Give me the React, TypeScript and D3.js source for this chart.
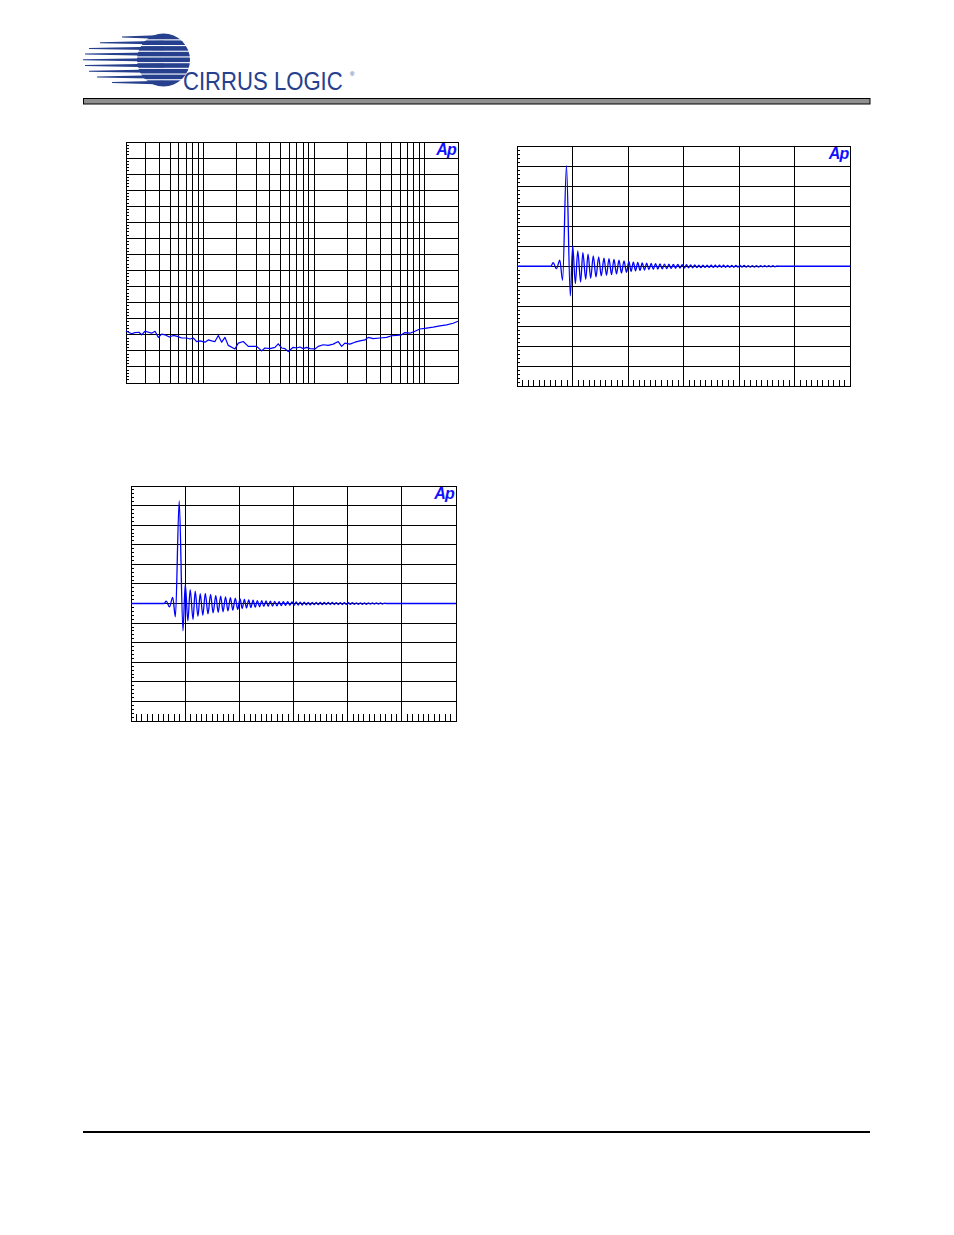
import React from "react";
import * as d3 from "d3";

// ---------- Chart 1 (log frequency) data ----------
const freqs = [20, 22.5, 24.1, 26.2, 27.7, 29.7, 34.1, 36.6, 39.2, 42.0, 45.0, 49.2, 53.5, 58.1, 63.7, 70.7, 75.7, 81.1, 87.0, 93.2, 103.5, 110.8, 118.9, 127.4, 136.5, 146.4, 156.8, 168.0, 193.0, 206.8, 229.4, 254.5, 303.3, 336.4, 360.4, 399.8, 443.6, 475.2, 509.8, 546.2, 584.9, 648.9, 697, 746.6, 799.6, 857.9, 918.9, 1019, 1092, 1211, 1344, 1491, 1655, 1776, 1902, 2111, 2343, 2600, 2885, 3091, 3428, 3940, 4530, 5025, 5577, 6188, 6628, 7356, 8162, 9055, 10403, 11940, 13730, 15780, 18110, 20000];
const levels = [-103.8, -104.7, -104.3, -104.2, -105.0, -103.9, -104.5, -103.9, -105.8, -104.8, -105.0, -105.7, -105.2, -105.5, -106.0, -106.0, -106.3, -106.0, -107.1, -106.9, -107.3, -106.6, -106.9, -107.1, -105.2, -107.3, -105.8, -108.3, -109.4, -107.6, -107.1, -108.6, -108.6, -110.0, -109.1, -109.3, -108.9, -107.8, -109.1, -109.3, -110.2, -108.9, -109.1, -108.8, -109.3, -108.9, -109.3, -109.4, -108.6, -108.1, -108.3, -107.9, -107.1, -108.6, -107.6, -107.9, -107.3, -106.9, -106.6, -105.8, -106.2, -106.0, -105.8, -105.3, -105.2, -105.0, -104.3, -104.5, -103.9, -103.2, -102.9, -102.6, -102.2, -101.9, -101.4, -100.8];
const freqDomain = [20, 20000];
const levelDomain = [-120, -45];

// ---------- Impulse response data ----------
const headTimes = [0, 0.61, 0.65, 0.71, 0.77, 0.82, 0.89, 0.959, 1.002, 1.05, 1.093, 1.145, 1.185, 1.236, 1.278];
const headAmpsA = [0, 0, 0.18, -0.12, 0.3, -0.7, 5.02, -1.48, 1.02, -0.87, 0.77, -0.78, 0.68, -0.65, 0.6];
const headAmpsB = [0, 0, 0.12, -0.17, 0.31, -0.68, 5.24, -1.39, 0.97, -0.88, 0.71, -0.82, 0.63, -0.65, 0.5];
const tailTimes = [1.326, 1.372, 1.421, 1.469, 1.516, 1.565, 1.610, 1.655, 1.700, 1.745, 1.790, 1.835, 1.880, 1.925, 1.970, 2.013, 2.053, 2.093, 2.133, 2.173, 2.213, 2.253, 2.293, 2.333, 2.373, 2.413, 2.453, 2.493, 2.533, 2.573, 2.613, 2.653, 2.693, 2.733, 2.773, 2.813, 2.853, 2.893, 2.933, 2.973, 3.013, 3.050, 3.087, 3.124, 3.161, 3.198, 3.235, 3.272, 3.309, 3.346, 3.383, 3.420, 3.457, 3.494, 3.531, 3.568, 3.605, 3.642, 3.679, 3.716, 3.753, 3.790, 3.827, 3.864, 3.901, 3.938, 3.975, 4.012, 4.049, 4.086, 4.123, 4.160, 4.197, 4.234, 4.271, 4.308, 4.345, 4.382, 4.419, 4.456, 4.493, 4.530, 4.567, 4.604, 4.641, 4.678, 4.72, 6.0];
const tailAmps = [-0.6, 0.52, -0.53, 0.47, -0.48, 0.40, -0.45, 0.38, -0.42, 0.34, -0.38, 0.30, -0.34, 0.27, -0.30, 0.24, -0.26, 0.21, -0.23, 0.19, -0.21, 0.17, -0.19, 0.15, -0.17, 0.14, -0.15, 0.13, -0.14, 0.12, -0.13, 0.11, -0.12, 0.10, -0.11, 0.09, -0.10, 0.09, -0.09, 0.08, -0.09, 0.08, -0.08, 0.07, -0.08, 0.07, -0.07, 0.06, -0.07, 0.06, -0.06, 0.06, -0.06, 0.05, -0.06, 0.05, -0.05, 0.05, -0.05, 0.05, -0.05, 0.04, -0.05, 0.04, -0.05, 0.04, -0.04, 0.04, -0.04, 0.04, -0.04, 0.03, -0.04, 0.03, -0.04, 0.03, -0.04, 0.03, -0.03, 0.03, -0.03, 0.03, -0.03, 0.03, -0.03, 0.02, 0, 0];
const timeDomain = [0, 6];
const ampDomain = [-6, 6];

// ---------- Logo rows ----------
const logoRowY = [37, 42.7, 48.4, 54.1, 59.8, 65.5, 71.2, 76.9, 82.6];
const logoRowLeft = [122, 100, 89, 85, 83, 85, 89, 97, 112];

const LOGO_BLUE = "#26408e";
const TRACE = "#0000ff";

function ApMark({ x, y }: { x: number; y: number }) {
  return (
    <text x={x} y={y} textAnchor="end" fontFamily="Liberation Sans, Arial, sans-serif" fontWeight="bold" fontStyle="italic" fontSize={16} fill="#1010ff" letterSpacing={-0.8}>
      Ap
    </text>
  );
}

function LogChart({ left, top, width, height }: { left: number; top: number; width: number; height: number }) {
  const x = d3.scaleLog().domain(freqDomain).range([left, left + width]);
  const y = d3.scaleLinear().domain(levelDomain).range([top + height, top]);
  const vLines: number[] = [];
  [10, 100, 1000, 10000].forEach((dec) => {
    for (let m = 1; m <= 9; m++) {
      const f = m * dec;
      if (f > freqDomain[0] && f < freqDomain[1]) vLines.push(f);
    }
  });
  const hLines = d3.range(levelDomain[0] + 5, levelDomain[1], 5);
  const minor = d3.range(levelDomain[0] + 1, levelDomain[1], 1).filter((v) => Math.abs(v % 5) > 0.01);
  const line = d3.line<number>().x((_, i) => x(freqs[i])).y((d) => y(d));
  return (
    <g>
      <g stroke="#000" strokeWidth={1} shapeRendering="crispEdges">
        {vLines.map((f) => (
          <line key={"v" + f} x1={x(f)} x2={x(f)} y1={top} y2={top + height} />
        ))}
        {hLines.map((v) => (
          <line key={"h" + v} x1={left} x2={left + width} y1={y(v)} y2={y(v)} />
        ))}
        {minor.map((v) => (
          <line key={"m" + v} x1={left} x2={left + 3} y1={y(v)} y2={y(v)} />
        ))}
        <rect x={left} y={top} width={width} height={height} fill="none" />
      </g>
      <path d={line(levels) || ""} fill="none" stroke={TRACE} strokeWidth={1.2} strokeLinejoin="round" />
      <ApMark x={left + width - 2} y={top + 13} />
    </g>
  );
}

function ImpulseChart({ left, top, width, height, amps }: { left: number; top: number; width: number; height: number; amps: number[] }) {
  const x = d3.scaleLinear().domain(timeDomain).range([left, left + width]);
  const y = d3.scaleLinear().domain(ampDomain).range([top + height, top]);
  const times = headTimes.concat(tailTimes);
  const vLines = d3.range(timeDomain[0] + 1, timeDomain[1], 1);
  const hLines = d3.range(ampDomain[0] + 1, ampDomain[1], 1);
  const minorY = d3.range(ampDomain[0], ampDomain[1], 0.2).filter((v) => Math.abs(v - Math.round(v)) > 0.01);
  const minorX = d3.range(timeDomain[0], timeDomain[1], 0.1).filter((v) => Math.abs(v - Math.round(v)) > 0.01);
  const line = d3
    .line<number>()
    .x((_, i) => x(times[i]))
    .y((d) => y(d))
    .curve(d3.curveMonotoneX);
  return (
    <g>
      <g stroke="#000" strokeWidth={1} shapeRendering="crispEdges">
        {vLines.map((t) => (
          <line key={"v" + t} x1={x(t)} x2={x(t)} y1={top} y2={top + height} />
        ))}
        {hLines.map((v) => (
          <line key={"h" + v} x1={left} x2={left + width} y1={y(v)} y2={y(v)} />
        ))}
        {minorY.map((v, i) => (
          <line key={"my" + i} x1={left} x2={left + 3} y1={y(v)} y2={y(v)} />
        ))}
        {minorX.map((t, i) => (
          <line key={"mx" + i} x1={x(t)} x2={x(t)} y1={top + height - 7} y2={top + height} />
        ))}
        <rect x={left} y={top} width={width} height={height} fill="none" />
      </g>
      <path d={line(amps) || ""} fill="none" stroke={TRACE} strokeWidth={1.3} strokeLinejoin="round" />
      <ApMark x={left + width - 2} y={top + 13} />
    </g>
  );
}

function Logo() {
  const cx = 163.5;
  const cy = 60;
  const r = 26.5;
  return (
    <g>
      <circle cx={cx} cy={cy} r={r} fill={LOGO_BLUE} />
      {logoRowY.slice(0, -1).map((yc, i) => (
        <rect key={"g" + i} x={cx - r} y={yc + 2.3} width={2 * r + 2} height={1.1} fill="#fff" />
      ))}
      {logoRowY.map((yc, i) => (
        <polygon
          key={"b" + i}
          points={`${logoRowLeft[i]},${yc - 0.5} ${cx},${yc - 1.9} ${cx},${yc + 1.9} ${logoRowLeft[i]},${yc + 0.5}`}
          fill={LOGO_BLUE}
        />
      ))}
      <g transform="translate(183,90) scale(0.885,1)">
        <text x={0} y={0} fontFamily="Liberation Sans, Arial, sans-serif" fontSize={25} fill={LOGO_BLUE}>
          CIRRUS LOGIC
        </text>
      </g>
      <text x={350} y={76} fontFamily="Liberation Sans, Arial, sans-serif" fontSize={6} fill={LOGO_BLUE}>
        ®
      </text>
    </g>
  );
}

export default function App() {
  return (
    <svg width={954} height={1235} style={{ position: "absolute", left: 0, top: 0, background: "#fff" }}>
      <rect x={0} y={0} width={954} height={1235} fill="#fff" />
      <Logo />
      <rect x={83.5} y={98.5} width={786.5} height={5.5} fill="#8f8f8f" stroke="#000" strokeWidth={1} />
      <LogChart left={126} top={142} width={332} height={241} />
      <ImpulseChart left={517} top={146} width={333.5} height={240.5} amps={headAmpsA.concat(tailAmps)} />
      <ImpulseChart left={131} top={486} width={325} height={235} amps={headAmpsB.concat(tailAmps)} />
      <rect x={83} y={1131} width={787} height={2} fill="#000" />
    </svg>
  );
}
